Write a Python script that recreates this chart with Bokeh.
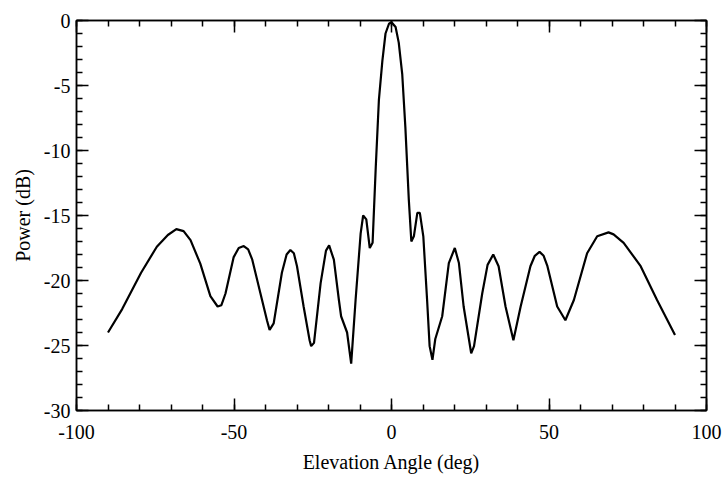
from bokeh.plotting import figure
from bokeh.models import FixedTicker, LinearAxis, Range1d, CustomJSTickFormatter
from bokeh.embed import file_html
from bokeh.resources import INLINE

# Elevation angle (deg) and received power (dB)
x_deg = [-90, -85.5, -79.5, -74.5, -71, -68.3, -66, -63.8, -60.7, -57.5, -55.2, -54,
         -52.7, -50.1, -48.5, -46.9, -45.5, -44.2, -41.6, -39.5, -38.7, -37.4, -34.8,
         -33.3, -32.1, -31, -30, -27.9, -26, -25.5, -24.6, -22.5, -20.8, -19.8, -18.3,
         -16.7, -16, -14.1, -12.8, -11.4, -9.8, -9.0, -8.0, -6.9, -6.0, -5.0, -4.0,
         -2.9, -1.9, -0.8, 0, 1.3, 2.3, 3.4, 4.4, 5.5, 6.3, 7.1, 8.2, 9.0, 10.1, 11.3,
         12.1, 13.0, 13.9, 16.1, 18.2, 20.1, 21.4, 22.9, 25.3, 26.2, 28.8, 30.5, 32.3,
         34.0, 36.2, 38.7, 41.0, 44.1, 45.5, 47.0, 48.3, 49.5, 52.6, 55.2, 57.9, 62.1,
         65.3, 68.9, 70.5, 73.7, 79.1, 84.3, 90]
power_db = [-24.0, -22.2, -19.4, -17.4, -16.5, -16.05, -16.2, -16.9, -18.7, -21.2, -22.0,
            -21.9, -21.0, -18.2, -17.5, -17.35, -17.6, -18.4, -21.0, -23.1, -23.8, -23.3,
            -19.4, -18.0, -17.65, -17.9, -18.9, -22.0, -24.6, -25.05, -24.8, -20.2, -17.7,
            -17.3, -18.4, -21.5, -22.75, -24.0, -26.4, -21.5, -16.4, -15.0, -15.3, -17.5,
            -17.1, -11.3, -6.1, -3.1, -1.0, -0.25, -0.13, -0.5, -1.7, -4.1, -8.2, -13.8,
            -17.0, -16.6, -14.8, -14.8, -16.6, -21.5, -25.05, -26.1, -24.5, -22.75, -18.66,
            -17.5, -18.66, -22.0, -25.6, -25.05, -21.0, -18.8, -18.0, -18.9, -22.0, -24.6,
            -22.0, -18.9, -18.1, -17.8, -18.1, -18.9, -22.0, -23.06, -21.5, -17.9, -16.6,
            -16.3, -16.45, -17.1, -18.9, -21.5, -24.2]

x_major = [-100, -50, 0, 50, 100]
x_minor = list(range(-100, 101, 10))
y_major = [-30, -25, -20, -15, -10, -5, 0]
y_minor = list(range(-30, 1, 1))
x_labels = ["-100", "-50", "0", "50", "100"]
y_labels = ["-30", "-25", "-20", "-15", "-10", "-5", "0"]

FONT = "Liberation Serif"
FS = "20px"

p = figure(width=726, height=480, output_backend="svg", toolbar_location=None,
           x_range=Range1d(-100, 100), y_range=Range1d(-30, 0),
           min_border_left=76, min_border_right=20, min_border_top=20,
           min_border_bottom=70)
p.grid.visible = False
p.outline_line_color = "black"
p.outline_line_width = 1.5
p.background_fill_color = "white"
p.border_fill_color = "white"

p.line(x_deg, power_db, line_color="black", line_width=2.2)


def style(ax):
    ax.major_tick_in = 12
    ax.major_tick_out = 0
    ax.minor_tick_in = 6
    ax.minor_tick_out = 0
    ax.major_tick_line_color = "black"
    ax.minor_tick_line_color = "black"
    ax.major_tick_line_width = 1.5
    ax.minor_tick_line_width = 1.5
    ax.axis_line_color = "black"
    ax.axis_line_width = 1.5
    ax.major_label_text_font = FONT
    ax.major_label_text_font_size = FS
    ax.major_label_text_color = "black"
    ax.axis_label_text_font = FONT
    ax.axis_label_text_font_size = FS
    ax.axis_label_text_font_style = "normal"
    ax.axis_label_text_color = "black"


p.xaxis.ticker = FixedTicker(ticks=x_major, minor_ticks=x_minor)
p.yaxis.ticker = FixedTicker(ticks=y_major, minor_ticks=y_minor)
style(p.xaxis[0])
style(p.yaxis[0])
p.xaxis.major_label_overrides = {v: s for v, s in zip(x_major, x_labels)}
p.yaxis.major_label_overrides = {v: s for v, s in zip(y_major, y_labels)}
p.xaxis.axis_label = "Elevation Angle (deg)"
p.yaxis.axis_label = "Power (dB)"
p.xaxis.major_label_standoff = 14
p.yaxis.major_label_standoff = 6
p.xaxis.axis_label_standoff = 9
p.yaxis.axis_label_standoff = 7

blank = CustomJSTickFormatter(code="return ''")
top = LinearAxis(ticker=FixedTicker(ticks=x_major, minor_ticks=x_minor), formatter=blank)
right = LinearAxis(ticker=FixedTicker(ticks=y_major, minor_ticks=y_minor), formatter=blank)
style(top)
style(right)
top.major_label_standoff = 0
right.major_label_standoff = 0
p.add_layout(top, "above")
p.add_layout(right, "right")

open("out.html", "w").write(file_html(p, INLINE))
